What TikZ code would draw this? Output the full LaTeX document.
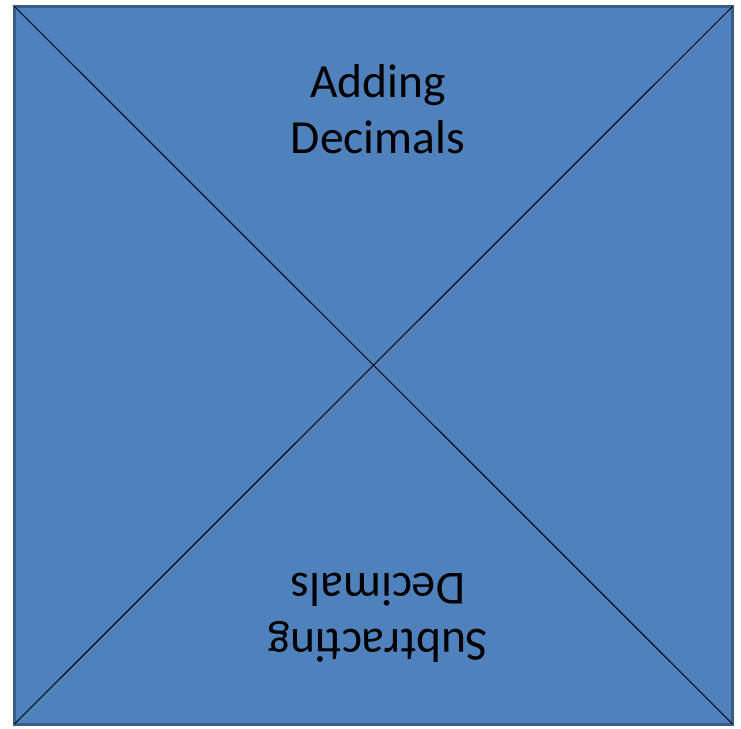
\documentclass[tikz,border=0pt]{standalone}
\usepackage{fontspec}
\setmainfont{Carlito}
\definecolor{boxblue}{HTML}{4F81BD}
\definecolor{boxedge}{HTML}{385D8A}
\begin{document}
\begin{tikzpicture}[x=1pt, y=-1pt,
    facetext/.style={align=center, font=\fontsize{47.5}{56}\selectfont}]
        \useasboundingbox (0,0) rectangle (741,728);
        \coordinate (tl) at (14.5,6.5);
        \coordinate (tr) at (732.5,6.5);
        \coordinate (bl) at (14.5,724);
        \coordinate (br) at (732.5,724);

        \draw[boxedge, line width=3pt, fill=boxblue] (tl) rectangle (br);
        \draw[line width=1pt] (tl) -- (br);
        \draw[line width=1pt] (tr) -- (bl);

        \node[facetext] (add) at (378,109) {Adding\\Decimals};
        \node[facetext, rotate=180] (sub) at (378,618) {Subtracting\\Decimals};
    \end{tikzpicture}
\end{document}
